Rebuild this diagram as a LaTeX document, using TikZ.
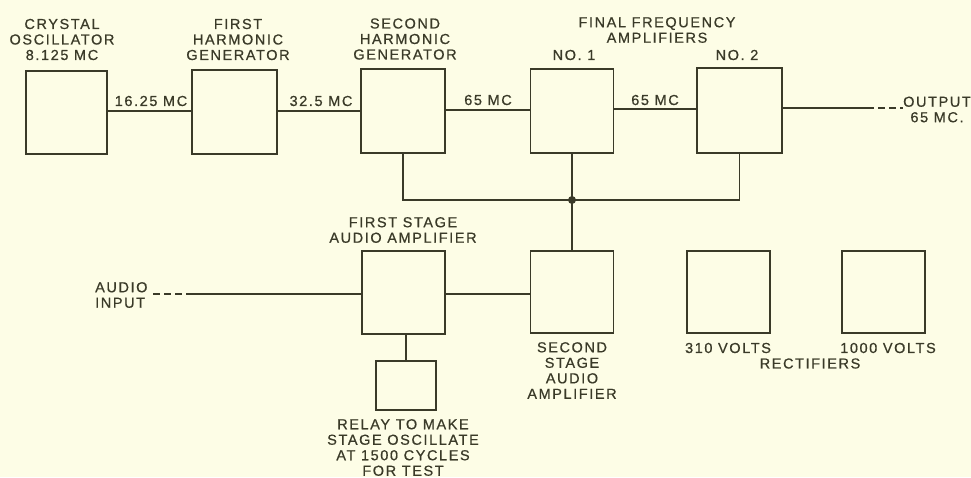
\documentclass[tikz,border=0pt]{standalone}
\usepackage{fontspec}
\setmainfont{Liberation Sans}[LetterSpace=11,FakeBold=0.6]
\usetikzlibrary{calc}
\definecolor{ink}{HTML}{3A3A28}
\definecolor{paper}{HTML}{FDFDE6}
\begin{document}
\begin{tikzpicture}[x=1pt,y=-1pt,
  box/.style={draw=ink,line width=1.6pt,inner sep=0pt,outer sep=0pt},
  lab/.style={text=ink,font=\fontsize{14.5}{15.5}\selectfont,align=center,inner sep=0pt},
  wire/.style={draw=ink,line width=1.6pt},
  dashwire/.style={draw=ink,line width=1.6pt,dash pattern=on 7pt off 4pt}]
\useasboundingbox[fill=paper] (0,0) rectangle (971,477);
% boxes
\node[box,minimum width=81pt,minimum height=83pt] (osc) at (66.5,112.5) {};
\node[box,minimum width=85pt,minimum height=84pt] (fh) at (234.5,112) {};
\node[box,minimum width=84pt,minimum height=84pt] (sh) at (403,111) {};
\node[box,minimum width=83pt,minimum height=84pt] (a1) at (572,111) {};
\node[box,minimum width=85pt,minimum height=85pt] (a2) at (739.5,110.5) {};
\node[box,minimum width=83pt,minimum height=83pt] (fsa) at (403.5,292.5) {};
\node[box,minimum width=83pt,minimum height=82pt] (ssa) at (572,292) {};
\node[box,minimum width=60pt,minimum height=49pt] (relay) at (406,385.5) {};
\node[box,minimum width=83pt,minimum height=82pt] (r310) at (728.5,292) {};
\node[box,minimum width=83pt,minimum height=82pt] (r1000) at (883.5,292) {};
% coordinates
\coordinate (junction) at (572,200);
\coordinate (outsolid) at (867,108);
\coordinate (outend) at (903,108);
\coordinate (ainstart) at (153,294);
\coordinate (ain) at (189,294);
% chain connectors
\draw[wire] (osc.east |- 0,111) -- (fh.west |- 0,111);
\draw[wire] (fh.east |- 0,111) -- (sh.west |- 0,111);
\draw[wire] (sh.east |- 0,110) -- (a1.west |- 0,110);
\draw[wire] (a1.east |- 0,109) -- (a2.west |- 0,109);
\draw[wire] (a2.east |- outsolid) -- (outsolid);
\draw[dashwire] (outsolid) -- (outend);
% bus
\draw[wire] (sh.south) |- (junction) -| (a2.south);
\draw[wire] (a1.south) -- (junction) -- (ssa.north);
\fill[ink] (junction) circle (4pt);
% audio
\draw[dashwire] (ainstart) -- (ain);
\draw[wire] (ain) -- (ain -| fsa.west);
\draw[wire] (fsa.east |- 0,294) -- (ssa.west |- 0,294);
\draw[wire] (relay.north) -- (relay.north |- fsa.south);
% labels
\node[lab] (osclab) at (62,39.5) {CRYSTAL\\OSCILLATOR\\8.125 MC};
\node[lab] (fhlab) at (238,39.5) {FIRST\\HARMONIC\\GENERATOR};
\node[lab] (shlab) at (405,39) {SECOND\\HARMONIC\\GENERATOR};
\node[lab] (finlab) at (657,30) {FINAL FREQUENCY\\AMPLIFIERS};
\node[lab] (no1) at (574,55) {NO. 1};
\node[lab] (no2) at (737,55) {NO. 2};
\node[lab] (f1) at (151,101) {16.25 MC};
\node[lab] (f2) at (321,101) {32.5 MC};
\node[lab] (f3) at (488,100) {65 MC};
\node[lab] (f4) at (655,100) {65 MC};
\node[lab] (outlab) at (937,109.5) {OUTPUT\\65 MC.};
\node[lab,align=left,anchor=west] (ainlab) at (95,295) {AUDIO\\INPUT};
\node[lab] (fsalab) at (403,230) {FIRST STAGE\\AUDIO AMPLIFIER};
\node[lab] (ssalab) at (572,370.5) {SECOND\\STAGE\\AUDIO\\AMPLIFIER};
\node[lab] (relaylab) at (403,447.5) {RELAY TO MAKE\\STAGE OSCILLATE\\AT 1500 CYCLES\\FOR TEST};
\node[lab] (v310) at (728,348) {310 VOLTS};
\node[lab] (v1000) at (888,348) {1000 VOLTS};
\node[lab] (rect) at (810,363.5) {RECTIFIERS};
\end{tikzpicture}
\end{document}
